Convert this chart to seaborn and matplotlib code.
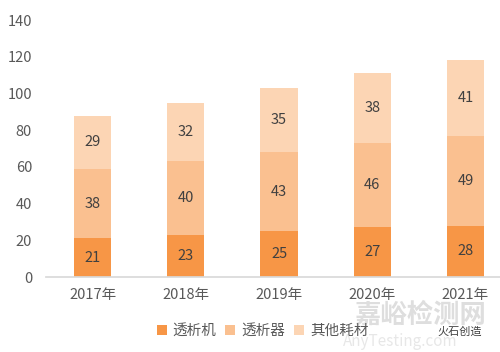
import matplotlib.pyplot as plt
import numpy as np
import pandas as pd
import seaborn as sns
from matplotlib.patches import Patch

years = ["2017年", "2018年", "2019年", "2020年", "2021年"]
machine = [21, 23, 25, 27, 28]       # 透析机
dialyzer = [38, 40, 43, 46, 49]      # 透析器
other = [29, 32, 35, 38, 41]         # 其他耗材
series_names = ["透析机", "透析器", "其他耗材"]
colors = ["#F79646", "#FAC090", "#FCD5B4"]

sns.set_theme(style="white")
plt.rcParams["font.family"] = ["Noto Sans CJK SC", "DejaVu Sans"]

df = pd.DataFrame({"year": years, "m": machine, "d": dialyzer, "o": other})
df["lvl1"] = df["m"]
df["lvl2"] = df["m"] + df["d"]
df["lvl3"] = df["lvl2"] + df["o"]

fig = plt.figure(figsize=(5.0, 3.52), dpi=100)
ax = fig.add_axes([0.092, 0.213, 0.932, 0.730])

# stacked look: draw cumulative totals from the top down
for col, c in zip(["lvl3", "lvl2", "lvl1"], colors[::-1]):
    sns.barplot(data=df, x="year", y=col, color=c, width=0.4,
                saturation=1, ax=ax, linewidth=0)

bottoms = np.zeros(len(years))
for vals in (machine, dialyzer, other):
    for i, v in enumerate(vals):
        ax.text(i, bottoms[i] + v / 2, str(v), ha="center", va="center",
                fontsize=10.5, color="#404040")
    bottoms += np.array(vals)

ax.set_ylim(0, 140)
ax.set_yticks(range(0, 141, 20))
ax.set_xlim(-0.5, 4.5)
ax.set_xlabel("")
ax.set_ylabel("")
for s in ["top", "right", "left"]:
    ax.spines[s].set_visible(False)
ax.spines["bottom"].set_color("#D9D9D9")
ax.tick_params(axis="both", length=0, labelsize=10.5, colors="#595959")
ax.tick_params(axis="x", pad=8)
ax.tick_params(axis="y", pad=10)

handles = [Patch(facecolor=c, edgecolor="none") for c in colors]
fig.legend(handles, series_names, loc="center", bbox_to_anchor=(0.525, 0.06),
           ncol=3, frameon=False, fontsize=10.5, handlelength=0.7,
           handleheight=0.7, handletextpad=0.4, columnspacing=0.6,
           labelcolor="#595959")

# watermark
fig.text(0.84, 0.105, "嘉峪检测网", fontsize=19, color="#C8C8C8", alpha=0.6,
         ha="center", va="center", fontweight="bold")
fig.text(0.80, 0.03, "AnyTesting.com", fontsize=11, color="#D0D0D0",
         alpha=0.5, ha="center", va="center", style="italic")
fig.text(0.92, 0.058, "火石创造", fontsize=8, color="#404040",
         ha="center", va="center")

fig.savefig("out.png", dpi=100)
